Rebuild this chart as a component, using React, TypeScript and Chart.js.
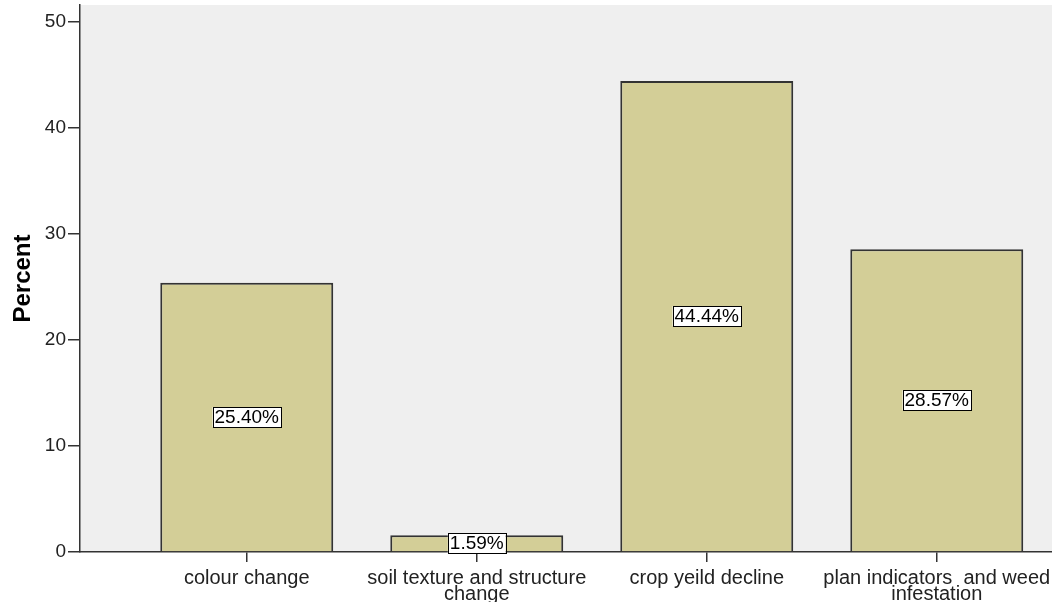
import React, { useEffect, useRef } from "react";
import { Chart, registerables } from "chart.js";

Chart.register(...registerables);

const categories: string[][] = [
  ["colour change"],
  ["soil texture and structure", "change"],
  ["crop yeild decline"],
  ["plan indicators  and weed", "infestation"],
];
const percentValues: number[] = [25.4, 1.59, 44.44, 28.57];
const valueLabels: string[] = ["25.40%", "1.59%", "44.44%", "28.57%"];
const yTicks: number[] = [0, 10, 20, 30, 40, 50];

const FONT = "'Liberation Sans', Arial, sans-serif";

const bgPlugin = {
  id: "plotBg",
  beforeDraw(chart: any) {
    const { ctx, chartArea } = chart;
    ctx.save();
    ctx.fillStyle = "#efefef";
    ctx.fillRect(chartArea.left, chartArea.top, chartArea.right - chartArea.left, chartArea.bottom - chartArea.top);
    ctx.restore();
  },
};

const labelPlugin = {
  id: "boxLabels",
  afterDatasetsDraw(chart: any) {
    const { ctx } = chart;
    const meta = chart.getDatasetMeta(0);
    ctx.save();
    ctx.font = `19px ${FONT}`;
    ctx.textAlign = "center";
    ctx.textBaseline = "middle";
    meta.data.forEach((bar: any, i: number) => {
      const text = valueLabels[i];
      const cx = bar.x;
      const cy = (bar.y + bar.base) / 2;
      const w = ctx.measureText(text).width + 4;
      const h = 20;
      ctx.fillStyle = "#ffffff";
      ctx.fillRect(cx - w / 2, cy - h / 2, w, h);
      ctx.strokeStyle = "#000000";
      ctx.lineWidth = 1;
      ctx.strokeRect(Math.round(cx - w / 2) + 0.5, Math.round(cy - h / 2) + 0.5, Math.round(w), h);
      ctx.fillStyle = "#000000";
      ctx.fillText(text, cx, cy + 1);
    });
    ctx.restore();
  },
};

export default function App() {
  const ref = useRef<HTMLCanvasElement | null>(null);
  useEffect(() => {
    if (!ref.current) return;
    const chart = new Chart(ref.current, {
      type: "bar",
      data: {
        datasets: [
          {
            data: percentValues.map((v, i) => ({ x: i, y: v })),
            backgroundColor: "#d3ce97",
            borderColor: "#333333",
            borderWidth: 2,
            categoryPercentage: 1,
            barPercentage: 0.752,
          } as any,
        ],
      },
      options: {
        responsive: false,
        animation: false,
        layout: { padding: { top: 5, left: 0, right: 0, bottom: 0 } },
        plugins: { legend: { display: false }, tooltip: { enabled: false } },
        scales: {
          x: {
            type: "linear",
            offset: false,
            min: -0.725,
            max: 3.501,
            afterBuildTicks: (scale: any) => {
              scale.ticks = categories.map((_, i) => ({ value: i }));
            },
            afterFit: (scale: any) => {
              scale.height = 50;
              scale.paddingLeft = 0;
              scale.paddingRight = 0;
            },
            ticks: {
              autoSkip: false,
              maxRotation: 0,
              minRotation: 0,
              padding: 8,
              color: "#222",
              font: { family: FONT, size: 20, lineHeight: 0.8 },
              callback: (value: any) => categories[Number(value)] ?? "",
            },
            grid: {
              display: true,
              offset: false,
              drawOnChartArea: false,
              drawTicks: true,
              tickLength: 10,
              color: "#333",
              lineWidth: 1.5,
            },
            border: { display: true, color: "#333", width: 1.5 },
          },
          y: {
            min: 0,
            max: 51.6,
            afterBuildTicks: (scale: any) => {
              scale.ticks = yTicks.map((v) => ({ value: v }));
            },
            afterFit: (scale: any) => {
              scale.width = 80;
              scale.paddingTop = 0;
              scale.paddingBottom = 0;
            },
            ticks: {
              padding: 2,
              color: "#222",
              font: { family: FONT, size: 19 },
            },
            grid: {
              display: true,
              drawOnChartArea: false,
              drawTicks: true,
              tickLength: 12,
              color: "#333",
              lineWidth: 1.5,
            },
            border: { display: true, color: "#333", width: 1.5 },
            title: {
              display: true,
              text: "Percent",
              color: "#000",
              font: { family: FONT, size: 24, weight: "bold" },
              padding: { top: 9, bottom: 0 },
            },
          },
        },
      },
      plugins: [bgPlugin, labelPlugin],
    });
    return () => chart.destroy();
  }, []);
  return (
    <div style={{ position: "fixed", left: 0, top: 0, width: 1052, height: 602, background: "#fff" }}>
      <canvas ref={ref} width={1052} height={602} />
    </div>
  );
}
